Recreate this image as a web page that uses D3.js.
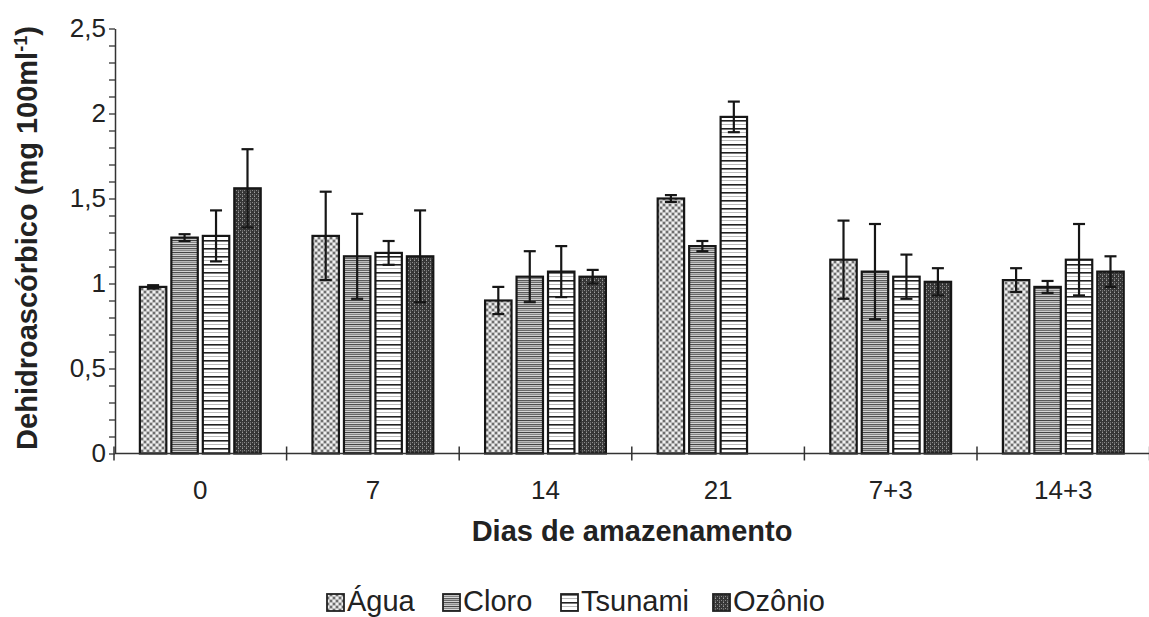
<!DOCTYPE html>
<html>
<head>
<meta charset="utf-8">
<script src="https://cdn.jsdelivr.net/npm/d3@7"></script>
<style>
  body { margin: 0; background: #fff; }
  text { font-family: "Liberation Sans", Arial, sans-serif; fill: #222; }
</style>
</head>
<body>
<div id="chart"></div>
<script>
// Data
const categories = ["0", "7", "14", "21", "7+3", "14+3"];
const seriesNames = ["Água", "Cloro", "Tsunami", "Ozônio"];
const agua = [0.98, 1.28, 0.90, 1.50, 1.14, 1.02];
const aguaErr = [0.01, 0.26, 0.08, 0.02, 0.23, 0.07];
const cloro = [1.27, 1.16, 1.04, 1.22, 1.07, 0.98];
const cloroErr = [0.02, 0.25, 0.15, 0.03, 0.28, 0.035];
const tsunami = [1.28, 1.18, 1.07, 1.98, 1.04, 1.14];
const tsunamiErr = [0.15, 0.07, 0.15, 0.09, 0.13, 0.21];
const ozonio = [1.56, 1.16, 1.04, null, 1.01, 1.07];
const ozonioErr = [0.23, 0.27, 0.04, null, 0.08, 0.09];
const yMajorTicks = [0, 0.5, 1, 1.5, 2, 2.5];

const values = [agua, cloro, tsunami, ozonio];
const errors = [aguaErr, cloroErr, tsunamiErr, ozonioErr];

const rows = [];
categories.forEach((c, i) => {
    seriesNames.forEach((s, j) => {
        if (values[j][i] != null) rows.push({ cat: c, series: s, value: values[j][i], err: errors[j][i] });
    });
});

// Dimensions
const width = 1149, height = 617;
const plot = { left: 115, right: 1149.6, top: 28.5, bottom: 453.5 };

const svg = d3.select('#chart')
    .append('svg')
    .attr('width', width)
    .attr('height', height);

// Patterns
const defs = svg.append('defs');

const pAgua = defs.append('pattern').attr('id', 'p-agua')
    .attr('patternUnits', 'userSpaceOnUse').attr('width', 6).attr('height', 6);
pAgua.append('rect').attr('width', 6).attr('height', 6).attr('fill', '#bdbdbd');
[[0, 0, '#f0f0f0'], [3, 3, '#f0f0f0'], [3, 0, '#6e6e6e'], [0, 3, '#6e6e6e']].forEach(([x, y, c]) =>
    pAgua.append('rect').attr('x', x).attr('y', y).attr('width', 2).attr('height', 2).attr('fill', c));

const pCloro = defs.append('pattern').attr('id', 'p-cloro')
    .attr('patternUnits', 'userSpaceOnUse').attr('width', 6).attr('height', 12);
['#444', '#c4c4c4', '#858585', '#d8d8d8', '#5a5a5a', '#b0b0b0',
 '#6a6a6a', '#d2d2d2', '#505050', '#b8b8b8', '#8c8c8c', '#cccccc'].forEach((c, i) =>
    pCloro.append('rect').attr('y', i).attr('width', 6).attr('height', 1).attr('fill', c));

const pTsu = defs.append('pattern').attr('id', 'p-tsunami')
    .attr('patternUnits', 'userSpaceOnUse').attr('width', 6).attr('height', 8);
pTsu.append('rect').attr('width', 6).attr('height', 8).attr('fill', '#fff');
pTsu.append('rect').attr('y', 0).attr('width', 6).attr('height', 1.6).attr('fill', '#222');
pTsu.append('rect').attr('y', 4).attr('width', 6).attr('height', 1).attr('fill', '#bbb');

const pOzo = defs.append('pattern').attr('id', 'p-ozonio')
    .attr('patternUnits', 'userSpaceOnUse').attr('width', 4).attr('height', 4);
pOzo.append('rect').attr('width', 4).attr('height', 4).attr('fill', '#363636');
pOzo.append('rect').attr('x', 2).attr('y', 0).attr('width', 1).attr('height', 1).attr('fill', '#a0a0a0');
pOzo.append('rect').attr('x', 0).attr('y', 2).attr('width', 1).attr('height', 1).attr('fill', '#8a8a8a');
pOzo.append('rect').attr('x', 2).attr('y', 2).attr('width', 1).attr('height', 2).attr('fill', '#666');

const fills = d3.scaleOrdinal()
    .domain(seriesNames)
    .range(['url(#p-agua)', 'url(#p-cloro)', 'url(#p-tsunami)', 'url(#p-ozonio)']);

// Scales
const x0 = d3.scaleBand()
    .domain(categories)
    .range([plot.left - 1, plot.right])
    .paddingInner(0.3)
    .paddingOuter(0.15);

const x1 = d3.scaleBand()
    .domain(seriesNames)
    .range([0, x0.bandwidth()])
    .paddingInner(0.16);

const y = d3.scaleLinear()
    .domain([0, 2.5])
    .range([plot.bottom, plot.top]);

// Bars
const bars = svg.append('g');
bars.selectAll('rect')
    .data(rows)
    .join('rect')
    .attr('x', d => x0(d.cat) + x1(d.series))
    .attr('y', d => y(d.value))
    .attr('width', x1.bandwidth())
    .attr('height', d => y(0) - y(d.value))
    .attr('fill', d => fills(d.series))
    .attr('stroke', '#161616')
    .attr('stroke-width', 2.2);

// Error bars
const errG = svg.append('g')
    .attr('stroke', '#161616')
    .attr('stroke-width', 2.2);
const cx = d => x0(d.cat) + x1(d.series) + x1.bandwidth() / 2;
errG.selectAll('line.v')
    .data(rows)
    .join('line')
    .attr('class', 'v')
    .attr('x1', cx).attr('x2', cx)
    .attr('y1', d => y(d.value + d.err))
    .attr('y2', d => y(d.value - d.err));
errG.selectAll('line.top')
    .data(rows)
    .join('line')
    .attr('class', 'top')
    .attr('x1', d => cx(d) - 6).attr('x2', d => cx(d) + 6)
    .attr('y1', d => y(d.value + d.err)).attr('y2', d => y(d.value + d.err));
errG.selectAll('line.bot')
    .data(rows)
    .join('line')
    .attr('class', 'bot')
    .attr('x1', d => cx(d) - 6).attr('x2', d => cx(d) + 6)
    .attr('y1', d => y(d.value - d.err)).attr('y2', d => y(d.value - d.err));

// Y axis
const yAxis = svg.append('g')
    .attr('transform', `translate(${plot.left},0)`)
    .call(d3.axisLeft(y)
        .tickValues(d3.range(0, 2.501, 0.1))
        .tickSize(6)
        .tickSizeOuter(0)
        .tickFormat(d => yMajorTicks.some(t => Math.abs(t - d) < 1e-6) ? d3.format('.1~f')(d).replace('.', ',') : ''));
yAxis.select('.domain').attr('stroke', '#333').attr('stroke-width', 1.5);
yAxis.selectAll('.tick line').attr('stroke', '#333').attr('stroke-width', 1.3);
yAxis.selectAll('.tick text')
    .attr('x', -9)
    .style('font-size', '26px')
    .style('font-family', '"Liberation Sans", Arial, sans-serif')
    .attr('fill', '#222');

// X axis
const xAxisG = svg.append('g')
    .attr('transform', `translate(0,${plot.bottom})`);
xAxisG.append('line')
    .attr('x1', plot.left).attr('x2', width)
    .attr('stroke', '#333').attr('stroke-width', 1.5);
const boundaries = categories.map(c => x0(c) - x0.step() * 0.15).concat([x0(categories[categories.length - 1]) + x0.step() * 0.85]);
xAxisG.selectAll('line.b')
    .data(boundaries)
    .join('line')
    .attr('class', 'b')
    .attr('x1', d => d).attr('x2', d => d)
    .attr('y1', -7).attr('y2', 7)
    .attr('stroke', '#333').attr('stroke-width', 1.5);
xAxisG.selectAll('text')
    .data(categories)
    .join('text')
    .attr('x', d => x0(d) + x0.bandwidth() / 2)
    .attr('y', 45)
    .attr('text-anchor', 'middle')
    .style('font-size', '26px')
    .text(d => d);

// Axis titles
svg.append('text')
    .attr('x', 632)
    .attr('y', 541)
    .attr('text-anchor', 'middle')
    .style('font-size', '29px')
    .style('font-weight', 'bold')
    .text('Dias de amazenamento');

const yTitle = svg.append('text')
    .attr('transform', 'translate(37,238) rotate(-90)')
    .attr('text-anchor', 'middle')
    .style('font-size', '29px')
    .style('font-weight', 'bold');
yTitle.append('tspan').text('Dehidroascórbico (mg 100ml');
yTitle.append('tspan').attr('dy', -10).style('font-size', '18px').text('-1');
yTitle.append('tspan').attr('dy', 10).text(')');

// Legend
const legendX = [327, 443, 561, 713];
const legend = svg.append('g')
    .selectAll('g')
    .data(seriesNames)
    .join('g')
    .attr('transform', (d, i) => `translate(${legendX[i]},594)`);
legend.append('rect')
    .attr('width', 17).attr('height', 17)
    .attr('fill', d => fills(d))
    .attr('stroke', '#222').attr('stroke-width', 1.8);
legend.append('text')
    .attr('x', 20)
    .attr('y', 17)
    .style('font-size', '29px')
    .text(d => d);
</script>
</body>
</html>
